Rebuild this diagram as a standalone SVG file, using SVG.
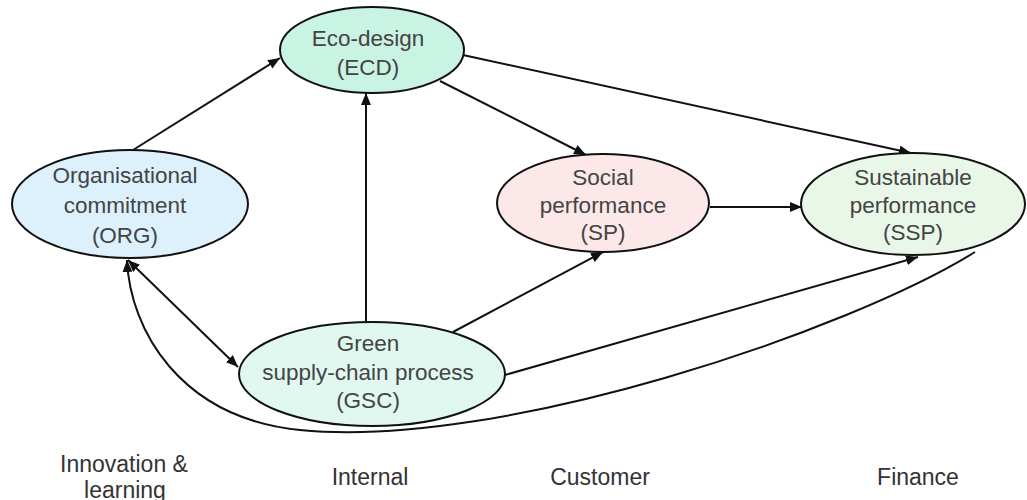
<svg xmlns="http://www.w3.org/2000/svg" width="1027" height="500" viewBox="0 0 1027 500">
<style>
.node ellipse{stroke:#111;stroke-width:2}
.lbl{font-family:"Liberation Sans",Arial,sans-serif;font-size:22.5px;fill:#444;text-anchor:middle}
.axis{font-family:"Liberation Sans",Arial,sans-serif;font-size:23px;fill:#333;text-anchor:middle}
.edge{fill:none;stroke:#111;stroke-width:2}
</style>
<defs>
<marker id="ah" viewBox="0 0 12 10" refX="12" refY="5" markerWidth="12" markerHeight="10" markerUnits="userSpaceOnUse" orient="auto-start-reverse">
<path d="M0,0 L12,5 L0,10 z" fill="#111"/>
</marker>
</defs>
<rect width="1027" height="500" fill="#fff"/>
<g id="connectors">
<line class="edge" x1="133" y1="150" x2="280" y2="58" marker-end="url(#ah)"/>
<line class="edge" x1="440" y1="81" x2="586" y2="155" marker-end="url(#ah)"/>
<line class="edge" x1="463" y1="55" x2="911" y2="153" marker-end="url(#ah)"/>
<line class="edge" x1="366" y1="322" x2="366" y2="93" marker-end="url(#ah)"/>
<line class="edge" x1="710" y1="207" x2="802" y2="207" marker-end="url(#ah)"/>
<line class="edge" x1="453" y1="332" x2="603" y2="252" marker-end="url(#ah)"/>
<line class="edge" x1="505" y1="375" x2="918" y2="257" marker-end="url(#ah)"/>
<line class="edge" x1="128" y1="260" x2="238" y2="367" marker-start="url(#ah)" marker-end="url(#ah)"/>
<path class="edge" d="M975,252 C850,330 500,450 300,430 C180,418 130,330 127,260" marker-end="url(#ah)"/>
</g>
<g id="ECD" class="node">
<ellipse cx="372" cy="50" rx="92" ry="43" fill="#c9f3e2"/>
<text class="lbl" x="368" y="46">Eco-design</text>
<text class="lbl" x="368" y="75">(ECD)</text>
</g>
<g id="ORG" class="node">
<ellipse cx="130" cy="204" rx="118" ry="54" fill="#dcf1fb"/>
<text class="lbl" x="125" y="183">Organisational</text>
<text class="lbl" x="125" y="213">commitment</text>
<text class="lbl" x="125" y="243">(ORG)</text>
</g>
<g id="SP" class="node">
<ellipse cx="603" cy="203" rx="106" ry="49" fill="#fce8e8"/>
<text class="lbl" x="603" y="185">Social</text>
<text class="lbl" x="603" y="213">performance</text>
<text class="lbl" x="603" y="240">(SP)</text>
</g>
<g id="SSP" class="node">
<ellipse cx="913" cy="204" rx="112" ry="51" fill="#e9f7e8"/>
<text class="lbl" x="913" y="185">Sustainable</text>
<text class="lbl" x="913" y="213">performance</text>
<text class="lbl" x="913" y="240">(SSP)</text>
</g>
<g id="GSC" class="node">
<ellipse cx="372" cy="374" rx="133" ry="52" fill="#e0f8ef"/>
<text class="lbl" x="368" y="351">Green</text>
<text class="lbl" x="368" y="380">supply-chain process</text>
<text class="lbl" x="368" y="408">(GSC)</text>
</g>
<g id="axis-labels">
<text class="axis" x="124" y="472">Innovation &amp;</text>
<text class="axis" x="125" y="498">learning</text>
<text class="axis" x="370" y="485">Internal</text>
<text class="axis" x="600" y="485">Customer</text>
<text class="axis" x="918" y="485">Finance</text>
</g>
</svg>
